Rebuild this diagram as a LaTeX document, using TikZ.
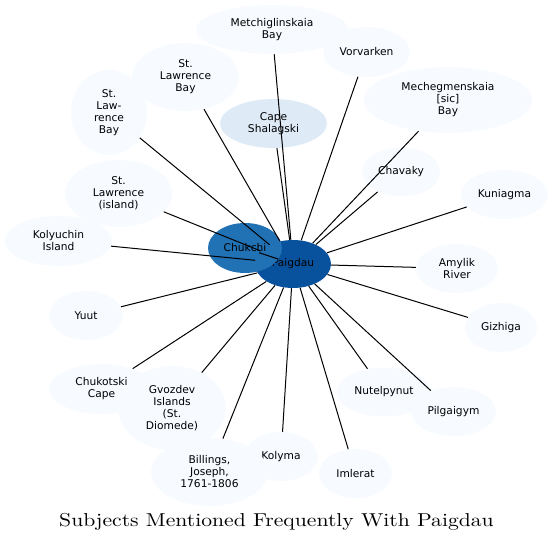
\documentclass[tikz,border=0pt]{standalone}
\usepackage{fontspec}
\newfontfamily\labelfont{DejaVu Sans}
\newfontfamily\titlefont{lmroman10-regular.otf}[FakeStretch=1.16]
\usetikzlibrary{shapes.geometric}
\definecolor{pale}{HTML}{F7FBFF}
\definecolor{paleblue}{HTML}{DEEBF7}
\definecolor{midblue}{HTML}{2171B5}
\definecolor{deepblue}{HTML}{08519C}

\begin{document}
\begin{tikzpicture}[x=0.75pt,y=-0.75pt,
  subj/.style 2 args={ellipse,fill=pale,inner sep=0pt,align=center,
    font=\labelfont\fontsize{8}{9}\selectfont,
    minimum width={1.5pt*#1},minimum height={1.5pt*#2}},
  link/.style={line width=0.75pt}]
  \useasboundingbox (0,0) rectangle (553,542);
  \node[subj={38}{24},fill=deepblue] (paigdau) at (293,264) {Paigdau};
  \node[subj={37}{25},fill=midblue] (chukchi) at (245,248) {Chukchi};
  \node[subj={53.5}{24.5},fill=paleblue] (shalagski) at (273.5,123.5) {Cape\\Shalagski};
  \node[subj={76}{24.5}] (metchig) at (272,29.5) {Metchiglinskaia\\Bay};
  \node[subj={43.5}{25}] (vorvarken) at (366.5,52) {Vorvarken};
  \node[subj={84}{33}] (mecheg) at (448,100) {Mechegmenskaia\\{[sic]}\\Bay};
  \node[subj={39}{24.5}] (chavaky) at (401,172) {Chavaky};
  \node[subj={43.5}{24.5}] (kuniagma) at (504.5,194.5) {Kuniagma};
  \node[subj={41}{24.5}] (amylik) at (457,268.5) {Amylik\\River};
  \node[subj={36}{24.5}] (gizhiga) at (501,327.5) {Gizhiga};
  \node[subj={47}{24.5}] (nutelpynut) at (384,392) {Nutelpynut};
  \node[subj={42.5}{24.5}] (pilgaigym) at (453.5,411.5) {Pilgaigym};
  \node[subj={36.5}{24.5}] (imlerat) at (355.5,473.5) {Imlerat};
  \node[subj={37}{24.5}] (kolyma) at (281,456.5) {Kolyma};
  \node[subj={58.5}{34}] (billings) at (209.5,472) {Billings,\\Joseph,\\1761-1806};
  \node[subj={52.5}{25}] (chukotski) at (101.5,389) {Chukotski\\Cape};
  \node[subj={54}{42}] (gvozdev) at (172,408) {Gvozdev\\Islands\\(St.\\Diomede)};
  \node[subj={37}{24.5}] (yuut) at (86,315.5) {Yuut};
  \node[subj={53.5}{25}] (kolyuchin) at (58.5,241) {Kolyuchin\\Island};
  \node[subj={53.5}{33.5}] (lawisland) at (118.5,193.5) {St.\\Lawrence\\(island)};
  \node[subj={38}{42.5}] (lawbayb) at (109,112.5) {St.\\Law-\\rence\\Bay};
  \node[subj={53.5}{34}] (lawbay) at (185.5,77) {St.\\Lawrence\\Bay};
  \foreach \n in {chukchi,shalagski,metchig,vorvarken,mecheg,chavaky,kuniagma,
    amylik,gizhiga,nutelpynut,pilgaigym,imlerat,kolyma,billings,chukotski,
    gvozdev,yuut,kolyuchin,lawisland,lawbayb,lawbay}
    \draw[link] (\n) -- (paigdau);
  \node[anchor=base,font=\titlefont\fontsize{14}{17}\selectfont] (title) at (276.5,526)
    {Subjects Mentioned Frequently With Paigdau};
\end{tikzpicture}
\end{document}
